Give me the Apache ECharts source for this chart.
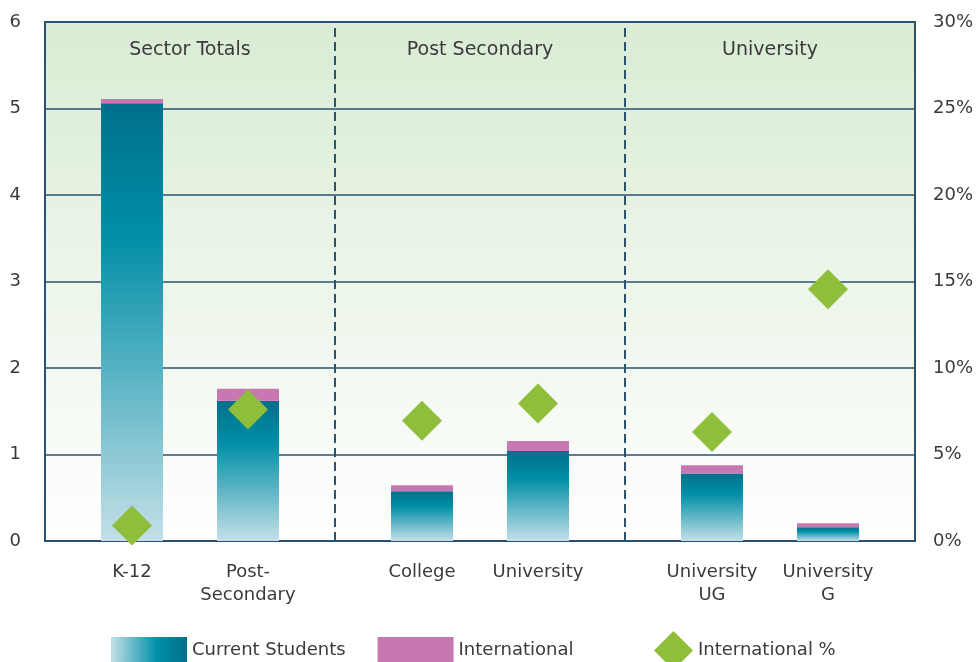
<!DOCTYPE html>
<html><head><meta charset="utf-8">
<script src="https://cdn.jsdelivr.net/npm/echarts@6/dist/echarts.min.js"></script>
<style>html,body{margin:0;padding:0;background:#fff}#c{width:976px;height:662px}</style>
</head><body><div id="c"></div>
<script>
var sections = ['Sector Totals', 'Post Secondary', 'University'];
var categories = ['K-12', 'Post-\nSecondary', 'College', 'University', 'University\nUG', 'University\nG'];
var currentStudents = [5.06, 1.62, 0.575, 1.04, 0.78, 0.16];
var international = [0.05, 0.14, 0.07, 0.115, 0.095, 0.045];
var internationalPct = [0.9, 7.6, 6.95, 7.95, 6.3, 14.55];
var leftTicks = [0, 1, 2, 3, 4, 5, 6];
var rightTicks = [0, 5, 10, 15, 20, 25, 30];

// build slot layout: each section has 5 slots, bars in slots 1 and 3
var slotCats = [], slotCur = [], slotInt = [], slotPct = [];
for (var s = 0; s < sections.length; s++) {
  for (var k = 0; k < 5; k++) {
    var ci = (k === 1) ? s * 2 : (k === 3 ? s * 2 + 1 : -1);
    if (ci >= 0) {
      slotCats.push(categories[ci]); slotCur.push(currentStudents[ci]);
      slotInt.push(international[ci]); slotPct.push(internationalPct[ci]);
    } else {
      slotCats.push(''); slotCur.push('-'); slotInt.push('-'); slotPct.push('-');
    }
  }
}
var nSlots = slotCats.length;
var navy = '#2c5270';
var font = 'DejaVu Sans';
var txt = '#3a3a3a';
var areaData = sections.map(function (name, i) {
  return [{ name: name, xAxis: i * 5, yAxis: 6 }, { xAxis: i * 5 + 5, yAxis: 5.35 }];
});
var dividers = [];
for (var i = 1; i < sections.length; i++) dividers.push({ xAxis: i * 5 });

var chart = echarts.init(document.getElementById('c'));
chart.setOption({
  animation: false,
  textStyle: { fontFamily: font },
  grid: {
    left: 45, right: 59, top: 22, bottom: 121, show: true,
    borderColor: navy, borderWidth: 2,
    backgroundColor: new echarts.graphic.LinearGradient(0, 0, 0, 1, [
      { offset: 0, color: '#d9ecd4' }, { offset: 1, color: '#ffffff' }])
  },
  legend: [{
    left: 106, top: 632, itemWidth: 76, itemHeight: 27, itemGap: 32,
    textStyle: { fontSize: 18, color: txt, fontFamily: font },
    data: [
      { name: 'Current Students', icon: 'rect', itemStyle: { color: new echarts.graphic.LinearGradient(0, 0, 1, 0, [
        { offset: 0, color: '#c4e0e8' }, { offset: 0.6, color: '#0090a8' }, { offset: 1, color: '#00708b' }]) } },
      { name: 'International', icon: 'rect' }
    ]
  }, {
    left: 649, top: 626, itemWidth: 39, itemHeight: 39,
    textStyle: { fontSize: 18, color: txt, fontFamily: font },
    data: [{ name: 'International %', icon: 'diamond' }]
  }],
  xAxis: [{
    type: 'category', data: slotCats,
    axisLine: { show: false }, axisTick: { show: false },
    axisLabel: { interval: 0, fontSize: 18, color: txt, lineHeight: 23, margin: 20 }
  }, {
    type: 'value', min: 0, max: nSlots, show: false
  }],
  yAxis: [{
    type: 'value', min: 0, max: 6, interval: 1,
    axisLine: { show: false }, axisTick: { show: false },
    axisLabel: { fontSize: 18, color: txt, margin: 24,
      formatter: function (v) { return leftTicks.indexOf(v) >= 0 ? String(v) : ''; } },
    splitLine: { lineStyle: { color: navy, width: 1.5 } }
  }, {
    type: 'value', min: 0, max: 30, interval: 5,
    axisLine: { show: false }, axisTick: { show: false },
    axisLabel: { fontSize: 18, color: txt, margin: 18,
      formatter: function (v) { return rightTicks.indexOf(v) >= 0 ? v + '%' : ''; } },
    splitLine: { show: false }
  }],
  series: [{
    name: 'Current Students', type: 'bar', stack: 'a', barWidth: 62,
    data: slotCur,
    itemStyle: { color: new echarts.graphic.LinearGradient(0, 0, 0, 1, [
      { offset: 0, color: '#00708b' }, { offset: 0.3, color: '#008ea6' }, { offset: 1, color: '#c4e0e8' }]) }
  }, {
    name: 'International', type: 'bar', stack: 'a', barWidth: 62,
    data: slotInt, itemStyle: { color: '#c878b0' }
  }, {
    name: 'International %', type: 'scatter', yAxisIndex: 1,
    symbol: 'diamond', symbolSize: 40, data: slotPct,
    itemStyle: { color: '#8fbf3a', opacity: 1 }, z: 5
  }, {
    name: 'sections', type: 'scatter', xAxisIndex: 1, yAxisIndex: 0, data: [],
    silent: true,
    markArea: {
      silent: true, itemStyle: { color: 'rgba(0,0,0,0)' },
      label: { show: true, position: 'inside', fontSize: 19, color: txt, fontFamily: font },
      data: areaData
    },
    markLine: {
      silent: true, symbol: ['none', 'none'], label: { show: false },
      lineStyle: { color: navy, width: 2, type: [9, 5] },
      data: dividers
    }
  }]
});
</script></body></html>
